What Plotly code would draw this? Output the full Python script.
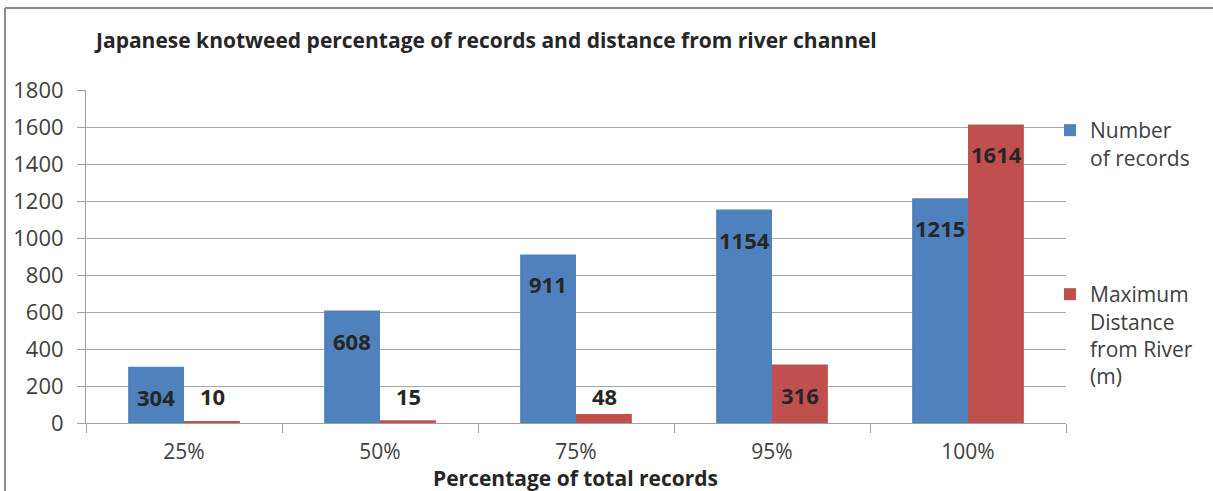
import plotly.graph_objects as go

categories = ["25%", "50%", "75%", "95%", "100%"]
number_of_records = [304, 608, 911, 1154, 1215]
max_distance_m = [10, 15, 48, 316, 1614]

series_names = ["Number<br>of records", "Maximum<br>Distance<br>from River<br>(m)"]
BLUE = "#4F81BD"
RED = "#C0504D"
FONT = "'Open Sans', Lato, sans-serif"
TEXT = "#404040"

W, H = 1213, 491
L, R, T, B = 86, 147, 90, 68
pw, ph = W - L - R, H - T - B

fig = go.Figure()
fig.add_trace(go.Bar(x=categories, y=number_of_records, name=series_names[0],
                     marker=dict(color=BLUE, line=dict(width=0)), legend="legend"))
fig.add_trace(go.Bar(x=categories, y=max_distance_m, name=series_names[1],
                     marker=dict(color=RED, line=dict(width=0)), legend="legend2"))

# value labels: inside near the top for tall bars, just above the axis for short ones
annotations = []
for k, vals in enumerate([number_of_records, max_distance_m]):
    xshift = -28 if k == 0 else 28
    for c, v in zip(categories, vals):
        if v > 200:
            annotations.append(dict(x=c, y=v, yshift=-30, xshift=xshift))
        else:
            annotations.append(dict(x=c, y=0, yshift=27, xshift=xshift))
        annotations[-1].update(text=f"<b>{v}</b>", showarrow=False, xref="x", yref="y",
                               font=dict(family=FONT, size=22, color="#262626"))

annotations.append(dict(text="<b>Japanese knotweed percentage of records and distance from river channel</b>",
                        xref="paper", yref="paper", x=(92 - L) / pw, y=(H - B - 40) / ph,
                        xanchor="left", yanchor="middle", showarrow=False,
                        font=dict(family=FONT, size=21, color="#262626")))
annotations.append(dict(text="<b>Percentage of total records</b>",
                        xref="paper", yref="paper", x=(575 - L) / pw, y=-(478 - (H - B)) / ph,
                        xanchor="center", yanchor="middle", showarrow=False,
                        font=dict(family=FONT, size=21, color="#262626")))

# outer chart frame (left and top edges)
shapes = [
    dict(type="line", xref="paper", yref="paper", x0=(5 - L) / pw, x1=(5 - L) / pw,
         y0=-B / ph, y1=((H - B) - 8) / ph, line=dict(color="#8c8c8c", width=2)),
    dict(type="line", xref="paper", yref="paper", x0=(5 - L) / pw, x1=(W - L) / pw,
         y0=((H - B) - 8) / ph, y1=((H - B) - 8) / ph, line=dict(color="#8c8c8c", width=2)),
]

legend_common = dict(xanchor="left", yanchor="top", valign="top",
                     font=dict(family=FONT, size=21, color=TEXT), bgcolor="rgba(0,0,0,0)",
                     itemwidth=30, tracegroupgap=0, visible=True)

fig.update_layout(
    width=W, height=H,
    margin=dict(l=L, r=R, t=T, b=B),
    paper_bgcolor="white", plot_bgcolor="white",
    barmode="group", bargap=0.43, bargroupgap=0,
    showlegend=True,
    font=dict(family=FONT, size=21, color=TEXT),
    annotations=annotations, shapes=shapes,
    legend=dict(x=(1050 - L) / pw, y=(H - B - 110) / ph, **legend_common),
    legend2=dict(x=(1050 - L) / pw, y=(H - B - 274) / ph, **legend_common),
    xaxis=dict(type="category", showgrid=False, showline=True, linecolor="#a0a0a0", linewidth=1,
               ticks="outside", tickson="boundaries", ticklen=9, tickcolor="#a0a0a0",
               ticklabelstandoff=10,
               tickfont=dict(family=FONT, size=21, color=TEXT), zeroline=False),
    yaxis=dict(range=[0, 1800], dtick=200, showgrid=True, gridcolor="#a8a8a8", gridwidth=1,
               showline=True, linecolor="#a0a0a0", linewidth=1, ticks="outside", ticklen=8,
               tickcolor="#a0a0a0", ticklabelstandoff=9,
               tickfont=dict(family=FONT, size=22, color=TEXT), zeroline=False),
)

fig.write_html("out.html")
